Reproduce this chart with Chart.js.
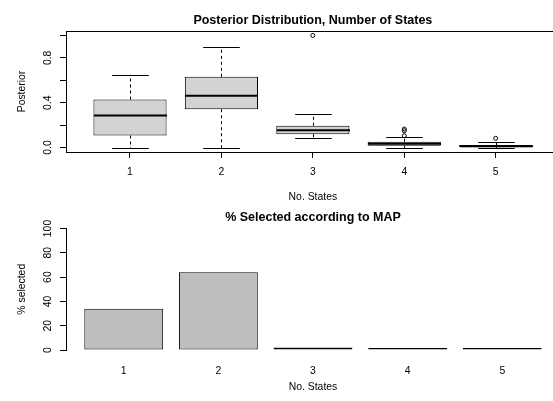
<!DOCTYPE html>
<html>
<head>
<meta charset="utf-8">
<script src="https://cdn.jsdelivr.net/npm/chart.js@4.4.1/dist/chart.umd.min.js"></script>
<style>
  html, body { margin: 0; padding: 0; background: #fff; overflow: hidden; width: 553px; height: 401px; }
  #posterior { position: absolute; left: 0; top: 0; }
  #selected { position: absolute; left: 0; top: 200px; }
</style>
</head>
<body>
<canvas id="posterior" width="580" height="215"></canvas>
<canvas id="selected" width="580" height="201"></canvas>
<script>
// number of states on both plots
const states = ['1', '2', '3', '4', '5'];

// boxplot stats
const whiskerLow  = [0.0,   0.0,   0.083, 0.0,   0.0];
const quart1      = [0.107, 0.342, 0.119, 0.015, 0.003];
const medians     = [0.286, 0.462, 0.155, 0.033, 0.012];
const quart3      = [0.429, 0.631, 0.194, 0.051, 0.023];
const whiskerHigh = [0.649, 0.896, 0.297, 0.095, 0.046];
const outliers    = [[], [], [1.0], [0.165, 0.15, 0.105], [0.082]];

const postTicks = [0, 0.2, 0.4, 0.6, 0.8, 1.0];
const postTickLabels = ['0.0', '', '0.4', '', '0.8', ''];

// % selected according to MAP
const pctSelected = [34, 64, 2, 0, 0];
const pctTicks = [0, 20, 40, 60, 80, 100];

Chart.defaults.font.family = '"Liberation Sans", Arial, Helvetica, sans-serif';
Chart.defaults.font.size = 10.4;
Chart.defaults.color = '#000';

// R barplot puts bars at width 1, space 0.2
const barCenter = i => 0.7 + 1.2 * i;

const whiskerPlugin = {
  id: 'whiskers',
  afterDatasetsDraw(chart) {
    const { ctx, scales: { x, y } } = chart;
    const line = (x1, y1, x2, y2) => {
      ctx.beginPath();
      ctx.moveTo(x1, y1);
      ctx.lineTo(x2, y2);
      ctx.stroke();
    };
    ctx.save();
    ctx.strokeStyle = '#000';
    states.forEach((s, i) => {
      const cx = Math.round(x.getPixelForValue(i + 1)) + 0.5;
      const cap = x.getPixelForValue(i + 1.2) - x.getPixelForValue(i + 1);
      const half = x.getPixelForValue(i + 1.4) - x.getPixelForValue(i + 1);
      const yHi = Math.round(y.getPixelForValue(whiskerHigh[i])) + 0.5;
      const yLo = Math.round(y.getPixelForValue(whiskerLow[i])) + 0.5;
      ctx.lineWidth = 1;
      ctx.setLineDash([3, 3]);
      line(cx, y.getPixelForValue(quart3[i]), cx, yHi);
      line(cx, y.getPixelForValue(quart1[i]), cx, yLo);
      ctx.setLineDash([]);
      line(cx - cap, yHi, cx + cap, yHi);
      line(cx - cap, yLo, cx + cap, yLo);
      ctx.lineWidth = 2;
      const ym = y.getPixelForValue(medians[i]);
      line(cx - half, ym, cx + half, ym);
    });
    ctx.restore();
  },
  afterDraw(chart) {
    const { ctx, chartArea: a } = chart;
    ctx.save();
    ctx.strokeStyle = '#000';
    ctx.lineWidth = 1;
    ctx.strokeRect(Math.round(a.left) + 0.5, Math.round(a.top) + 0.5,
      Math.round(a.right - a.left), Math.round(a.bottom - a.top));
    ctx.restore();
  }
};

new Chart(document.getElementById('posterior'), {
  type: 'bar',
  data: {
    datasets: [
      {
        type: 'bar',
        data: states.map((s, i) => ({ x: i + 1, y: [quart1[i], quart3[i]] })),
        backgroundColor: '#d3d3d3',
        borderColor: '#000',
        borderWidth: 1,
        borderSkipped: false,
        inflateAmount: 0,
        barPercentage: 1,
        categoryPercentage: 0.8
      },
      {
        type: 'scatter',
        data: outliers.flatMap((vals, i) => vals.map(v => ({ x: i + 1, y: v }))),
        pointStyle: 'circle',
        radius: 2,
        borderColor: '#000',
        backgroundColor: 'rgba(0,0,0,0)',
        borderWidth: 1
      }
    ]
  },
  options: {
    responsive: false,
    animation: false,
    devicePixelRatio: 1,
    events: [],
    layout: { padding: { left: 0, right: 20.3, top: 0, bottom: 7 } },
    plugins: {
      legend: { display: false },
      tooltip: { enabled: false },
      title: {
        display: true,
        text: 'Posterior Distribution, Number of States',
        fullSize: false,
        color: '#000',
        font: { size: 12.5, weight: 'bold' },
        padding: { top: 13.5, bottom: 2.5 }
      }
    },
    scales: {
      x: {
        type: 'linear',
        min: 0.3,
        max: 5.7,
        offset: false,
        afterBuildTicks: s => { s.ticks = states.map((_, i) => ({ value: i + 1 })); },
        afterFit: s => { s.height = 56; },
        ticks: { callback: (v, i) => states[i], padding: 8, autoSkip: false, maxRotation: 0 },
        grid: { offset: false, drawOnChartArea: false, drawTicks: true, tickLength: 6, color: '#000' },
        border: { display: true, color: '#000' },
        title: { display: true, text: 'No. States', padding: { top: 0, bottom: 4.3 } }
      },
      y: {
        type: 'linear',
        min: -0.04,
        max: 1.04,
        afterBuildTicks: s => { s.ticks = postTicks.map(v => ({ value: v })); },
        afterFit: s => { s.width = 66; },
        ticks: {
          callback: (v, i) => postTickLabels[i],
          minRotation: 90, maxRotation: 90,
          crossAlign: 'center', padding: 4.8, autoSkip: false
        },
        grid: { drawOnChartArea: false, drawTicks: true, tickLength: 6, color: '#000' },
        border: { display: true, color: '#000' },
        title: { display: true, text: 'Posterior', padding: { top: 15.8, bottom: 0 } }
      }
    }
  },
  plugins: [whiskerPlugin]
});

new Chart(document.getElementById('selected'), {
  type: 'bar',
  data: {
    datasets: [{
      data: pctSelected.map((v, i) => ({ x: barCenter(i), y: v })),
      backgroundColor: '#bebebe',
      borderColor: '#000',
      borderWidth: 1,
      borderSkipped: false,
      inflateAmount: 0,
      barPercentage: 1,
      categoryPercentage: 1 / 1.2,
      minBarLength: 2
    }]
  },
  options: {
    responsive: false,
    animation: false,
    devicePixelRatio: 1,
    events: [],
    layout: { padding: { left: 0, right: 20, top: 0, bottom: 6 } },
    plugins: {
      legend: { display: false },
      tooltip: { enabled: false },
      title: {
        display: true,
        text: '% Selected according to MAP',
        fullSize: false,
        color: '#000',
        font: { size: 12.5, weight: 'bold' },
        padding: { top: 10.5, bottom: 3 }
      }
    },
    scales: {
      x: {
        type: 'linear',
        min: -0.032,
        max: 6.232,
        offset: false,
        afterBuildTicks: s => { s.ticks = states.map((_, i) => ({ value: barCenter(i) })); },
        afterFit: s => { s.height = 45; },
        ticks: { callback: (v, i) => states[i], padding: 14.8, autoSkip: false, maxRotation: 0 },
        grid: { display: false, offset: false, drawTicks: false, tickLength: 0 },
        border: { display: false },
        title: { display: true, text: 'No. States', padding: { top: 0, bottom: 2.1 } }
      },
      y: {
        type: 'linear',
        min: 0,
        max: 100,
        afterBuildTicks: s => { s.ticks = pctTicks.map(v => ({ value: v })); },
        afterFit: s => { s.width = 66; },
        ticks: {
          callback: v => String(v),
          minRotation: 90, maxRotation: 90,
          crossAlign: 'center', padding: 3, autoSkip: false
        },
        grid: { drawOnChartArea: false, drawTicks: true, tickLength: 6, color: '#000' },
        border: { display: true, color: '#000' },
        title: { display: true, text: '% selected', padding: { top: 15.8, bottom: 0 } }
      }
    }
  }
});
</script>
</body>
</html>
